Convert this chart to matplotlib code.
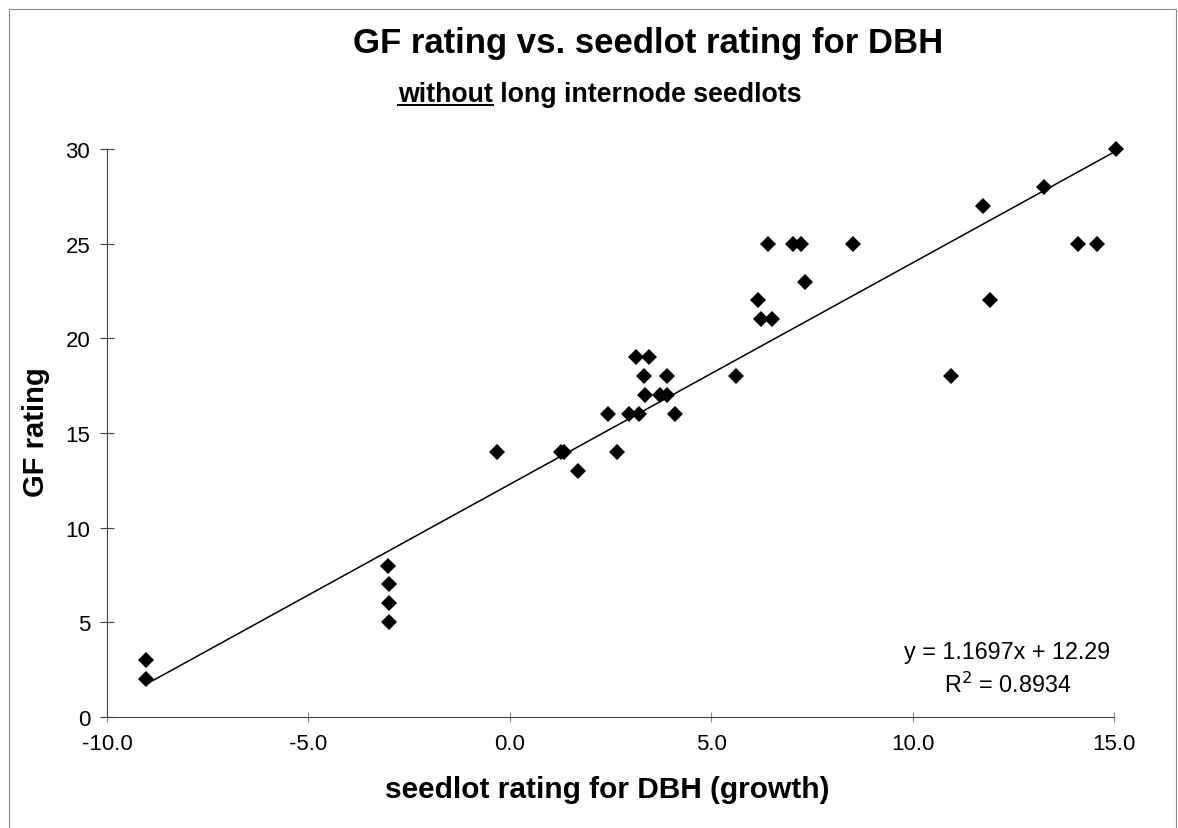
import matplotlib
matplotlib.use('Agg')
import matplotlib.pyplot as plt
import matplotlib.patches as mpatches
import numpy as np

plt.rcParams['font.family'] = ['Liberation Sans', 'DejaVu Sans']

# ── data ─────────────────────────────────────────────
seedlot_rating = [-9.04, -9.04, -3.03, -2.99, -2.99, -2.99, -0.32, 1.27, 1.35, 1.69,
                  2.67, 2.44, 2.95, 3.20, 4.09, 3.13, 3.45, 3.34, 3.91, 3.35,
                  3.74, 3.90, 5.62, 6.15, 6.24, 6.51, 6.42, 7.03, 7.22, 7.33,
                  8.53, 15.05, 13.27, 11.75, 14.11, 14.59, 11.92, 10.96]
gf_rating = [3, 2, 8, 7, 6, 5, 14, 14, 14, 13,
             14, 16, 16, 16, 16, 19, 19, 18, 18, 17,
             17, 17, 18, 22, 21, 21, 25, 25, 25, 23,
             25, 30, 28, 27, 25, 25, 22, 18]
slope, intercept, r2 = 1.1697, 12.29, 0.8934
x_ticks = [-10, -5, 0, 5, 10, 15]
y_ticks = [0, 5, 10, 15, 20, 25, 30]

W, H = 1178, 829
fig = plt.figure(figsize=(W / 100, H / 100), dpi=100)
fig.patch.set_facecolor('white')
ax = fig.add_axes([107 / W, 1 - 718 / H, (1114 - 107) / W, (718 - 150) / H])

# chart frame
fig.add_artist(mpatches.Rectangle((9 / W, -0.01), (1176 - 9) / W, 1.01 - 10 / H,
                                  transform=fig.transFigure, fill=False,
                                  edgecolor='#8a8a8a', linewidth=0.8))

# points + trendline
ax.plot(seedlot_rating, gf_rating, linestyle='none', marker='D', markersize=7.8,
        color='black', markeredgewidth=0, clip_on=False, zorder=3)
xs = np.array([min(seedlot_rating), max(seedlot_rating)])
ax.plot(xs, slope * xs + intercept, color='black', linewidth=1.1, clip_on=False, zorder=2)

ax.set_xlim(-10, 15)
ax.set_ylim(0, 30)
ax.set_xticks(x_ticks)
ax.set_xticklabels([f'{v:.1f}' for v in x_ticks])
ax.set_yticks(y_ticks)
ax.set_yticklabels([str(v) for v in y_ticks])

for s in ['top', 'right']:
    ax.spines[s].set_visible(False)
for s in ['left', 'bottom']:
    ax.spines[s].set_color('#444444')
    ax.spines[s].set_linewidth(0.8)
ax.tick_params(axis='y', direction='inout', length=10, width=0.8, color='#444444',
               labelsize=16, pad=7)
ax.tick_params(axis='x', direction='inout', length=7, width=0.8, color='#888888',
               labelsize=16, pad=8)

ax.set_xlabel('seedlot rating for DBH (growth)', fontsize=21.5, fontweight='bold')
ax.xaxis.set_label_coords((607 - 107) / (1114 - 107), -(790 - 718) / (718 - 150))
ax.xaxis.label.set_va('center')
ax.set_ylabel('GF rating', fontsize=21, fontweight='bold')
ax.yaxis.set_label_coords(-(107 - 36) / (1114 - 107), (718 - 432) / (718 - 150))
ax.yaxis.label.set_va('center')

# regression annotation
ax.text(1007 / W, 1 - 653 / H, f'y = {slope}x + {intercept}', transform=fig.transFigure,
        ha='center', va='center', fontsize=16.8)
ax.text(1008 / W, 1 - 685 / H, r'R$^2$ = ' + f'{r2}', transform=fig.transFigure,
        ha='center', va='center', fontsize=16.8)

# titles
fig.text(648 / W, 1 - 43 / H, 'GF rating vs. seedlot rating for DBH', ha='center', va='center',
         fontsize=25, fontweight='bold')
sub = fig.text(600 / W, 1 - 95 / H, 'without long internode seedlots', ha='center', va='center',
               fontsize=19.3, fontweight='bold')

# underline "without"
r = fig.canvas.get_renderer()
bb = sub.get_window_extent(r)
probe = fig.text(0, 0, 'without', fontsize=19.3, fontweight='bold')
pw = probe.get_window_extent(r).width
probe.remove()
uy = bb.y0 + 2
fig.add_artist(plt.Line2D([bb.x0 / W, (bb.x0 + pw) / W], [uy / H, uy / H],
                          transform=fig.transFigure, color='black', linewidth=1.4))

fig.savefig('out.png', dpi=100, facecolor='white')
